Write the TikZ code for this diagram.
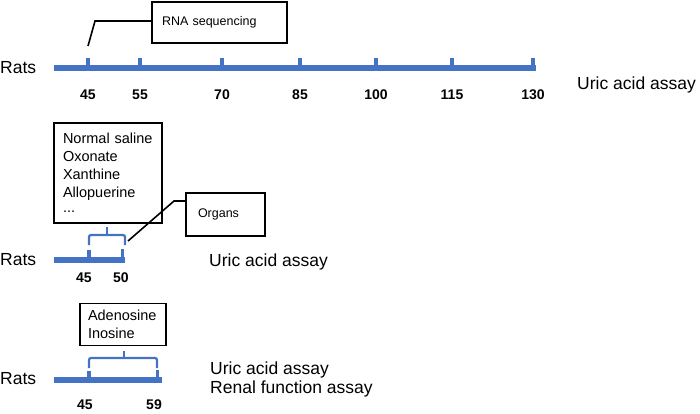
\documentclass[tikz,border=0pt]{standalone}
\usepackage{fontspec}
\setmainfont{Liberation Sans}
\definecolor{tlblue}{HTML}{4472C4}
\begin{document}
\begin{tikzpicture}[x=1pt,y=-1pt,
  bar/.style={draw=tlblue,line width=5.5pt},
  tick/.style={draw=tlblue,line width=3.5pt},
  brace/.style={draw=tlblue,line width=2.2pt,rounded corners=2pt},
  num/.style={font=\fontsize{14}{16}\selectfont\bfseries,inner sep=0pt},
  lab/.style={font=\fontsize{17.5}{20}\selectfont,inner sep=0pt,anchor=west},
  infobox/.style={draw,line width=1.6pt,align=left,inner ysep=0pt},
  conn/.style={draw,line width=1.6pt}]
\useasboundingbox (0,0) rectangle (700,413);

% ---- top timeline
\node[lab] (rats1) at (0,68) {Rats};
\coordinate (b1s) at (54,68);
\coordinate (b1e) at (536,68);
\draw[bar] (b1s) -- (b1e);
\foreach \x/\n in {88/45,140/55,222/70,300/85,376/100,452/115,533/130}{
  \draw[tick] (\x,58) -- (\x,68);
  \node[num] (n1-\n) at (\x,95) {\n};
}
\node[lab] (ua1) at (577,85) {Uric acid assay};
\node[infobox,minimum width=135pt,minimum height=41pt,text width=115pt,inner xsep=10pt,
  font=\fontsize{12.5}{14}\selectfont] (rna) at (219.5,22.5) {RNA sequencing};
\coordinate (c1) at (88,46);
\draw[conn] (c1) -- (95,21) -- (rna.west |- 0,21);

% ---- middle timeline
\node[lab] (rats2) at (0,260) {Rats};
\coordinate (b2s) at (54,260);
\coordinate (b2e) at (125,260);
\draw[bar] (b2s) -- (b2e);
\draw[tick] (89,250) -- (89,260);
\draw[tick] (122.5,249) -- (122.5,260);
\node[num] (n2-45) at (84,278) {45};
\node[num] (n2-50) at (121,278) {50};
\draw[brace] (89,245) -- (89,235) -- (125,235) -- (125,245);
\draw[brace,rounded corners=0pt] (107,235) -- (107,227);
\node[infobox,minimum width=108pt,minimum height=100pt,text width=90pt,inner xsep=9pt,
  font=\fontsize{14.5}{18}\selectfont] (drugs) at (108,173)
  {Normal saline\\Oxonate\\Xanthine\\Allopuerine\\[-3pt]...};
\node[infobox,minimum width=79pt,minimum height=43pt,text width=55pt,inner xsep=12pt,
  font=\fontsize{12.5}{14}\selectfont] (organs) at (225.5,214.5) {Organs};
\coordinate (c2) at (128,241);
\coordinate (c3) at (174,201);
\draw[conn] (c2) -- (c3) -- (c3 -| organs.west);
\node[lab] (ua2) at (209,262) {Uric acid assay};

% ---- bottom timeline
\node[lab] (rats3) at (0,379) {Rats};
\coordinate (b3s) at (54,380);
\coordinate (b3e) at (162,380);
\draw[bar] (b3s) -- (b3e);
\draw[tick] (89,371) -- (89,380);
\draw[tick] (157.5,370) -- (157.5,380);
\node[num] (n3-45) at (85,405) {45};
\node[num] (n3-59) at (154,405) {59};
\draw[brace] (89,368) -- (89,358) -- (157,358) -- (157,368);
\draw[brace,rounded corners=0pt] (124,358) -- (124,351);
\node[infobox,minimum width=86pt,minimum height=42pt,text width=70pt,inner xsep=8pt,
  font=\fontsize{14.5}{18}\selectfont] (nuc) at (123,324.5) {Adenosine\\Inosine};
\node[lab] (ua3) at (210,370) {Uric acid assay};
\node[lab] (rf3) at (210,389) {Renal function assay};
\end{tikzpicture}
\end{document}
